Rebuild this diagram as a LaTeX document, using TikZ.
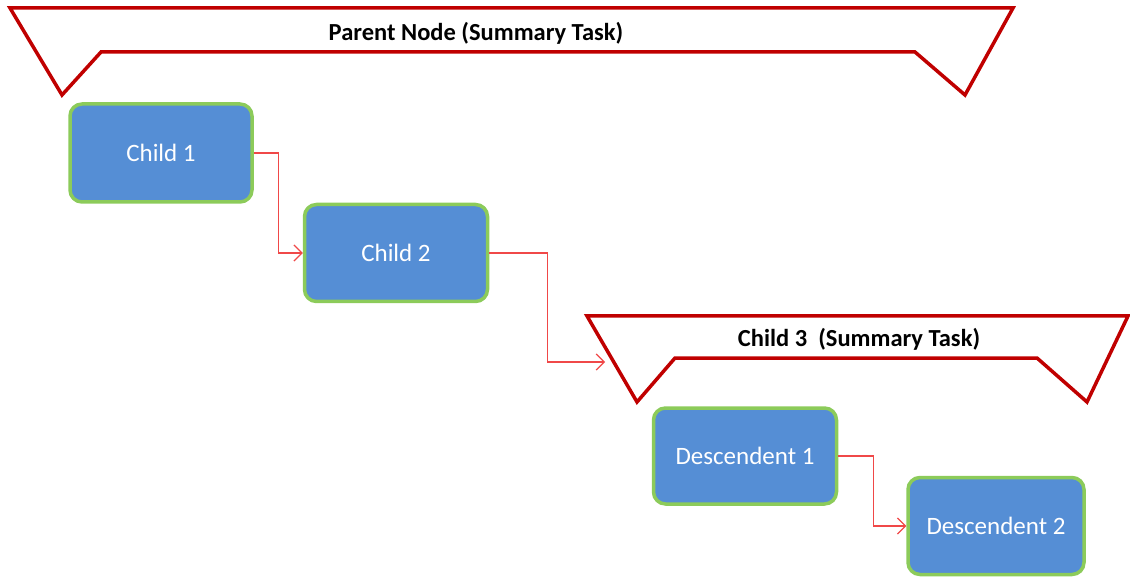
\documentclass[tikz,border=0pt]{standalone}
\usepackage{fontspec}
\setmainfont{Carlito}
\usetikzlibrary{arrows.meta}
\definecolor{boxblue}{HTML}{558ED5}
\definecolor{boxgreen}{HTML}{8CCB5A}
\definecolor{sumred}{HTML}{C00000}
\definecolor{linkred}{HTML}{F04848}
\begin{document}
\begin{tikzpicture}[x=1pt,y=-1pt,
  task/.style={draw=boxgreen, line width=3.5pt, fill=boxblue, rounded corners=12pt,
    text=white, font=\fontsize{25}{30}\selectfont, inner sep=0pt},
  summary/.style={draw=sumred, line width=3.5pt, line join=miter},
  link/.style={draw=linkred, line width=1.2pt, -{Straight Barb[length=8pt,width=16pt,line width=1.2pt]}},
  sumlabel/.style={font=\bfseries\fontsize{24.5}{29}\selectfont, text=black}]
\useasboundingbox (0,0) rectangle (1130,577);
% Parent summary shape
\draw[summary] (10,8) -- (1013,8) -- (965,95) -- (915,52) -- (101,52) -- (62,95) -- cycle;
\node[sumlabel] (parent) at (476,33) {Parent Node (Summary Task)};
% Child 3 summary shape
\draw[summary] (587,316) -- (1128,316) -- (1087,402) -- (1037,358) -- (675,358) -- (637,402) -- cycle;
\node[sumlabel] (child3) at (859,339) {Child 3\ \ (Summary Task)};
\coordinate (c3in) at (605,362);
% Task boxes
\node[task, minimum width=182pt, minimum height=98pt] (c1) at (161,153) {Child 1};
\node[task, minimum width=183pt, minimum height=97pt] (c2) at (396,253) {Child 2};
\node[task, minimum width=183pt, minimum height=96pt] (d1) at (745,456) {Descendent 1};
\node[task, minimum width=176pt, minimum height=97pt] (d2) at (996,526) {Descendent 2};
% Links
\draw[link] (c1.east) -- ++(25,0) |- (c2.west);
\draw[link] (c2.east) -- ++(58,0) |- (c3in);
\draw[link] (d1.east) -- ++(35,0) |- (d2.west);
\end{tikzpicture}
\end{document}
